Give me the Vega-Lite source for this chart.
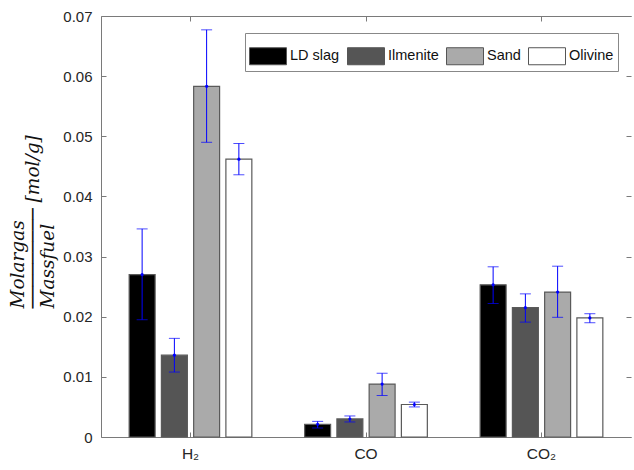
{
  "$schema": "https://vega.github.io/schema/vega-lite/v6.json",
  "autosize": "none",
  "padding": {"left": 101, "top": 16, "right": 3, "bottom": 33},
  "width": 530,
  "height": 421,
  "background": "white",
  "config": {
    "view": {"stroke": null},
    "axis": {
      "domainColor": "#7a7a7a",
      "tickColor": "#7a7a7a",
      "labelFont": "Liberation Sans",
      "labelFontSize": 15,
      "labelColor": "#262626",
      "grid": false
    }
  },
  "data": {
    "values": [
      {"gas": "H₂", "material": "LD slag", "value": 0.0270, "lo": 0.0195, "hi": 0.0346},
      {"gas": "H₂", "material": "Ilmenite", "value": 0.0136, "lo": 0.0108, "hi": 0.0164},
      {"gas": "H₂", "material": "Sand", "value": 0.0583, "lo": 0.0490, "hi": 0.0677},
      {"gas": "H₂", "material": "Olivine", "value": 0.0462, "lo": 0.0436, "hi": 0.0488},
      {"gas": "CO", "material": "LD slag", "value": 0.0021, "lo": 0.0015, "hi": 0.0026},
      {"gas": "CO", "material": "Ilmenite", "value": 0.0030, "lo": 0.0025, "hi": 0.0035},
      {"gas": "CO", "material": "Sand", "value": 0.0088, "lo": 0.0069, "hi": 0.0106},
      {"gas": "CO", "material": "Olivine", "value": 0.0054, "lo": 0.0050, "hi": 0.0058},
      {"gas": "CO₂", "material": "LD slag", "value": 0.0253, "lo": 0.0222, "hi": 0.0283},
      {"gas": "CO₂", "material": "Ilmenite", "value": 0.0215, "lo": 0.0191, "hi": 0.0238},
      {"gas": "CO₂", "material": "Sand", "value": 0.0241, "lo": 0.0199, "hi": 0.0284},
      {"gas": "CO₂", "material": "Olivine", "value": 0.0198, "lo": 0.0190, "hi": 0.0205}
    ]
  },
  "resolve": {"axis": {"x": "independent", "y": "independent"}},
  "layer": [
    {
      "mark": {"type": "bar", "stroke": "#5a5a5a", "strokeWidth": 1.2},
      "encoding": {
        "x": {
          "field": "gas", "type": "nominal", "sort": ["H₂", "CO", "CO₂"],
          "scale": {"paddingInner": 0, "paddingOuter": 0.01},
          "axis": {"orient": "bottom", "title": null, "labelAngle": 0, "tickSize": -5, "labelPadding": 14, "domainWidth": 1, "labelFontSize": 15.5}
        },
        "xOffset": {
          "field": "material", "type": "nominal", "sort": ["LD slag", "Ilmenite", "Sand", "Olivine"],
          "scale": {"paddingInner": 0.195, "paddingOuter": 0.819}
        },
        "y": {
          "field": "value", "type": "quantitative",
          "scale": {"domain": [0, 0.07], "nice": false, "zero": true},
          "axis": {
            "orient": "left",
            "values": [0, 0.01, 0.02, 0.03, 0.04, 0.05, 0.06, 0.07],
            "format": ".2~f",
            "tickSize": -5,
            "labelPadding": 14,
            "title": ["Molargas", "───────── [mol/g]", "Massfuel"],
            "titleFont": "DejaVu Serif",
            "titleFontStyle": "italic",
            "titleFontWeight": "normal",
            "titleFontSize": 18.5,
            "titleColor": "#111111",
            "titleLineHeight": 15,
            "titleAlign": "left",
            "titleAnchor": "middle",
            "titleY": 292,
            "titlePadding": 5
          }
        },
        "fill": {
          "field": "material", "type": "nominal",
          "scale": {"domain": ["LD slag", "Ilmenite", "Sand", "Olivine"], "range": ["#000000", "#555555", "#aaaaaa", "#ffffff"]},
          "legend": {
            "title": null,
            "orient": "none",
            "legendX": 144,
            "legendY": 17,
            "direction": "horizontal",
            "columns": 4,
            "padding": 4,
            "strokeColor": "#888888",
            "fillColor": "white",
            "labelFont": "Liberation Sans",
            "labelFontSize": 14.5,
            "labelColor": "#111111",
            "labelOffset": 3,
            "columnPadding": 5,
            "symbolType": "M-1,-0.46H1V0.46H-1Z",
            "symbolSize": 1369,
            "symbolStrokeColor": "#555555",
            "symbolStrokeWidth": 1
          }
        }
      }
    },
    {
      "mark": {"type": "rule", "color": "#0000ff", "strokeWidth": 1},
      "encoding": {
        "x": {
          "field": "gas", "type": "nominal", "sort": ["H₂", "CO", "CO₂"],
          "axis": {"orient": "top", "title": null, "labels": false, "tickSize": -5, "domainWidth": 1}
        },
        "xOffset": {"field": "material", "type": "nominal", "sort": ["LD slag", "Ilmenite", "Sand", "Olivine"]},
        "y": {
          "field": "lo", "type": "quantitative",
          "axis": {"orient": "right", "title": null, "labels": false, "domain": false, "tickSize": -5, "values": [0, 0.01, 0.02, 0.03, 0.04, 0.05, 0.06, 0.07]}
        },
        "y2": {"field": "hi"}
      }
    },
    {
      "mark": {"type": "tick", "color": "#0000ff", "size": 11, "thickness": 1, "orient": "horizontal"},
      "encoding": {
        "x": {"field": "gas", "type": "nominal", "sort": ["H₂", "CO", "CO₂"], "axis": null},
        "xOffset": {"field": "material", "type": "nominal", "sort": ["LD slag", "Ilmenite", "Sand", "Olivine"]},
        "y": {"field": "lo", "type": "quantitative", "axis": null}
      }
    },
    {
      "mark": {"type": "tick", "color": "#0000ff", "size": 11, "thickness": 1, "orient": "horizontal"},
      "encoding": {
        "x": {"field": "gas", "type": "nominal", "sort": ["H₂", "CO", "CO₂"], "axis": null},
        "xOffset": {"field": "material", "type": "nominal", "sort": ["LD slag", "Ilmenite", "Sand", "Olivine"]},
        "y": {"field": "hi", "type": "quantitative", "axis": null}
      }
    },
    {
      "mark": {"type": "point", "filled": true, "color": "#0000ff", "size": 10, "opacity": 1},
      "encoding": {
        "x": {"field": "gas", "type": "nominal", "sort": ["H₂", "CO", "CO₂"], "axis": null},
        "xOffset": {"field": "material", "type": "nominal", "sort": ["LD slag", "Ilmenite", "Sand", "Olivine"]},
        "y": {"field": "value", "type": "quantitative", "axis": null}
      }
    }
  ]
}
